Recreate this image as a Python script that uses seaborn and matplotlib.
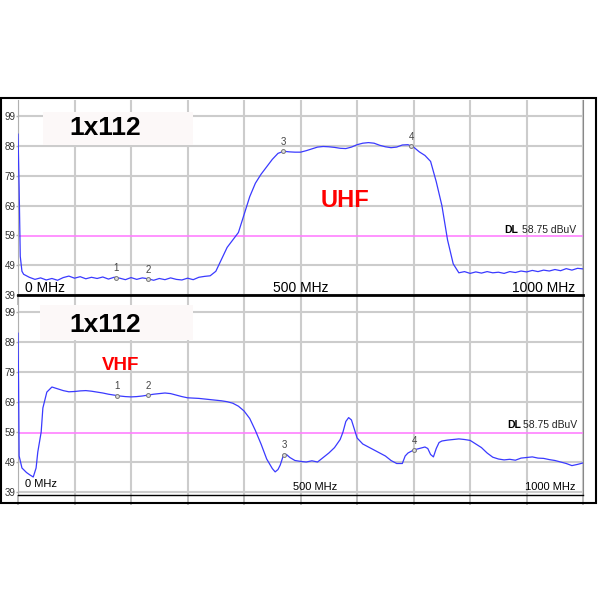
import numpy as np
import pandas as pd
import matplotlib.pyplot as plt
from matplotlib.patches import Rectangle
import seaborn as sns

# Traza superior (UHF): frecuencia en MHz y nivel en dBuV
freq_uhf = [0, 2, 4, 7, 10, 20, 30, 40, 50, 60, 70, 80, 90, 100, 110, 120, 130, 140, 150,
            160, 170, 180, 190, 200, 210, 220, 230, 240, 250, 260, 270, 280, 290, 300,
            310, 320, 330, 340, 350, 360, 370, 380, 390, 400, 410, 420, 430, 440, 450,
            460, 470, 480, 490, 500, 510, 520, 530, 540, 550, 560, 570, 580, 590, 600,
            610, 620, 630, 640, 650, 660, 670, 680, 690, 700, 710, 720, 730, 740, 750,
            760, 770, 780, 790, 800, 810, 820, 830, 840, 850, 860, 870, 880, 890, 900,
            910, 920, 930, 940, 950, 960, 970, 980, 990, 1000]
level_uhf = [93, 75, 52, 47, 46, 45.0, 44.3, 44.8, 44.1, 44.6, 44.0, 44.9, 45.4, 44.7, 45.2,
             44.5, 45.0, 44.6, 45.1, 44.4, 45.0, 44.7, 44.2, 44.9, 44.3, 44.8, 44.5, 44.0,
             44.6, 44.2, 44.8, 44.3, 44.1, 44.7, 44.2, 45.0, 45.3, 45.5, 47.0, 51.0, 55.0,
             57.5, 60.0, 66.0, 72.0, 76.5, 79.5, 82.0, 84.5, 86.5, 87.2, 87.0, 86.9, 86.9,
             87.4, 88.0, 88.6, 88.8, 88.7, 88.5, 88.2, 88.1, 88.6, 89.4, 89.9, 90.1, 89.9,
             89.2, 88.7, 88.4, 88.6, 89.3, 89.4, 88.6, 87.0, 85.8, 83.8, 77.0, 69.0, 57.5,
             49.5, 46.5, 46.9, 46.3, 46.8, 46.4, 46.9, 46.5, 46.7, 46.3, 46.9, 46.6, 47.1,
             46.8, 47.3, 46.9, 47.4, 47.1, 47.6, 47.2, 47.9, 47.4, 48.0, 47.8]

# Traza inferior (VHF)
freq_vhf = [0, 1, 2, 7, 15, 21, 27, 32, 35, 41, 44, 51, 60, 70, 80, 90, 100, 110, 120, 130,
            140, 150, 160, 170, 180, 190, 200, 210, 220, 230, 240, 250, 260, 270, 280, 290,
            300, 310, 320, 330, 340, 350, 360, 370, 380, 390, 400, 410, 420, 430, 440, 450,
            455, 460, 464, 470, 475, 481, 490, 500, 510, 520, 530, 540, 550, 560, 570, 575,
            580, 585, 590, 595, 600, 610, 620, 630, 640, 650, 660, 670, 680, 685, 690, 700,
            710, 720, 725, 730, 735, 740, 745, 750, 760, 770, 780, 790, 800, 810, 820, 830,
            840, 850, 860, 870, 880, 890, 900, 910, 920, 930, 940, 950, 960, 970, 980, 990, 1000]
level_vhf = [92, 75, 51, 47, 45.5, 44.7, 44.0, 47.0, 52.3, 59.0, 67.0, 72.3, 74.0, 73.4, 72.8,
             72.4, 72.5, 72.7, 72.8, 72.6, 72.3, 72.0, 71.6, 71.3, 71.0, 70.8, 70.7, 70.8,
             71.0, 71.3, 71.6, 71.8, 72.0, 71.8, 71.3, 70.8, 70.4, 70.3, 70.2, 70.0, 69.8,
             69.6, 69.4, 69.1, 68.6, 67.6, 66.0, 63.5, 59.5, 55.0, 50.0, 46.8, 45.7, 46.5,
             48.0, 51.5, 51.5, 50.5, 49.5, 49.2, 49.0, 49.4, 49.0, 50.5, 52.0, 53.8, 56.5,
             59.0, 62.5, 63.8, 63.0, 60.0, 57.0, 55.0, 54.0, 53.0, 52.0, 51.0, 49.5, 48.5,
             48.5, 51.0, 52.0, 53.0, 53.5, 54.0, 53.5, 51.5, 50.7, 53.5, 55.5, 56.0, 56.3,
             56.5, 56.7, 56.5, 56.2, 55.0, 53.8, 52.0, 50.6, 50.0, 49.7, 49.9, 49.6, 50.3,
             50.5, 50.7, 50.3, 50.2, 49.8, 49.5, 49.0, 48.5, 47.8, 48.2, 48.7]

marker_names = ['1', '2', '3', '4']
marker_freq_uhf = [173, 230, 469, 696]
marker_freq_vhf = [175, 230, 471, 701]
dl_level = 58.75
ytick_vals = [39, 49, 59, 69, 79, 89, 99]
xgrid_vals = list(range(0, 1001, 100))

sns.set_style('white')
plt.rcParams['font.family'] = ['Liberation Sans', 'DejaVu Sans']
plt.rcParams['text.color'] = 'black'

fig = plt.figure(figsize=(6, 6), dpi=100)
ax_top = fig.add_axes([0.03, 0.508, 0.942, 0.325])
ax_bot = fig.add_axes([0.03, 0.175, 0.942, 0.33])

paneles = [
    (ax_top, freq_uhf, level_uhf, marker_freq_uhf, (40.1, 104.3)),
    (ax_bot, freq_vhf, level_vhf, marker_freq_vhf, (38.0, 104.0)),
]

for ax, fx, ly, mk, ylim in paneles:
    df = pd.DataFrame({'MHz': fx, 'dBuV': ly})
    ax.set_xlim(0, 1000)
    ax.set_ylim(*ylim)
    ax.set_xticks(xgrid_vals)
    ax.set_yticks(ytick_vals)
    ax.set_xticklabels([])
    ax.set_yticklabels([str(v) for v in ytick_vals], fontsize=7, color='#333333')
    ax.tick_params(axis='y', length=1.5, width=1, color='#b0b0b0', pad=0.5, left=True)
    ax.tick_params(axis='x', length=7, width=1.2, color='#b0b0b0', direction='out', bottom=True)
    ax.grid(True, color='#cccccc', linewidth=1.5)
    ax.set_axisbelow(True)
    # la linea DL tapa la rejilla de 59
    ax.get_ygridlines()[2].set_visible(False)
    ax.spines['top'].set_visible(False)
    ax.spines['left'].set_color('#b0b0b0')
    ax.spines['right'].set_color('#888888')
    ax.spines['bottom'].set_color('black')
    ax.set_facecolor('white')

    ax.axhline(dl_level, color='#ff80ff', linewidth=1.2, zorder=2)
    sns.lineplot(data=df, x='MHz', y='dBuV', ax=ax, color='#3a3aff', linewidth=0.9,
                 zorder=3, estimator=None, sort=False)
    ax.set_xlabel('')
    ax.set_ylabel('')

    # marcadores
    my = np.interp(mk, fx, ly)
    ax.plot(mk, my, 'o', markersize=2.8, markerfacecolor='#dddddd', markeredgecolor='#777777',
            markeredgewidth=0.7, zorder=4)
    for n, xm, ym in zip(marker_names, mk, my):
        ax.text(xm, ym + 1.4, n, fontsize=7, color='#444444', ha='center', va='bottom', zorder=5)

ax_top.spines['bottom'].set_linewidth(2)
ax_bot.spines['bottom'].set_linewidth(1)

# cajas "1x112"
ax_top.add_patch(Rectangle((44, 89.2), 266, 11.1, facecolor='#fcf8f8', edgecolor='none', zorder=2.5))
ax_top.text(154, 95, '1x112', fontsize=19, fontweight='bold', ha='center', va='center', zorder=6)
ax_bot.add_patch(Rectangle((39, 89.7), 271, 11.6, facecolor='#fcf8f8', edgecolor='none', zorder=2.5))
ax_bot.text(154, 94.6, '1x112', fontsize=19, fontweight='bold', ha='center', va='center', zorder=6)

ax_top.text(579, 70.7, 'UHF', fontsize=17, fontweight='bold', color='#ff0000', ha='center', va='center')
ax_bot.text(182, 81, 'VHF', fontsize=13.5, fontweight='bold', color='#ff0000', ha='center', va='center')

# linea DL
ax_top.text(860, 60.8, 'DL', fontsize=7.5, fontweight='bold', ha='left', va='center')
ax_top.text(892, 60.8, '58.75 dBuV', fontsize=7.5, color='#222222', ha='left', va='center')
ax_bot.text(865, 61.3, 'DL', fontsize=7.5, fontweight='bold', ha='left', va='center')
ax_bot.text(894, 61.3, '58.75 dBuV', fontsize=7.5, color='#222222', ha='left', va='center')

# etiquetas de frecuencia
ax_top.text(12, 41.3, '0 MHz', fontsize=10, ha='left', va='center', zorder=6)
ax_top.text(501, 41.3, '500 MHz', fontsize=10, ha='center', va='center', zorder=6)
ax_top.text(986, 41.3, '1000 MHz', fontsize=10, ha='right', va='center', zorder=6)
ax_bot.text(12, 41.7, '0 MHz', fontsize=8, ha='left', va='center', zorder=6)
ax_bot.text(526, 40.7, '500 MHz', fontsize=8, ha='center', va='center', zorder=6)
ax_bot.text(986, 40.7, '1000 MHz', fontsize=8, ha='right', va='center', zorder=6)

# marco exterior
fig.add_artist(Rectangle((0.002, 1 - 503 / 600), 0.993 - 0.002, (503 - 98) / 600,
                         transform=fig.transFigure, fill=False, edgecolor='black', linewidth=1.5))

plt.savefig('out.png', dpi=100, facecolor='white')
